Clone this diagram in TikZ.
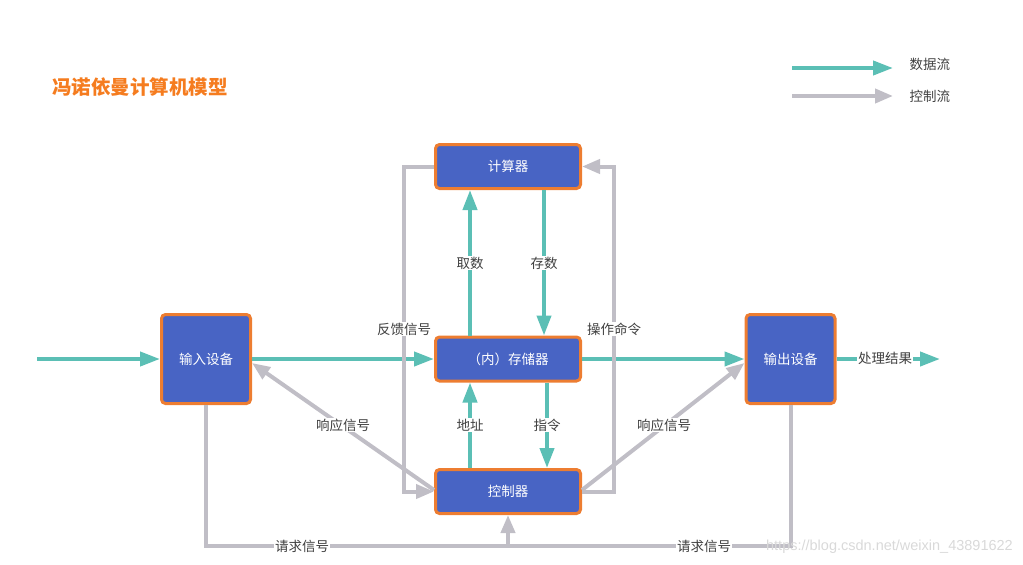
\documentclass[tikz,border=0pt]{standalone}
\usepackage{fontspec}
\setmainfont{Noto Sans CJK SC}
\newfontfamily\wmfont{Liberation Sans}
\usetikzlibrary{arrows.meta,calc}
\definecolor{teal1}{HTML}{5BBFB5}
\definecolor{gray1}{HTML}{C0BEC6}
\definecolor{boxfill}{HTML}{4864C4}
\definecolor{boxedge}{HTML}{ED7D31}
\definecolor{titleor}{HTML}{F57C1F}
\definecolor{txt}{HTML}{404040}
\tikzset{
  unitbox/.style={draw=boxedge, line width=3pt, fill=boxfill, rounded corners=4pt,
    text=white, font=\fontsize{13.5}{16}\selectfont, inner sep=0pt},
  wide/.style={unitbox, minimum width=145pt, minimum height=44pt},
  sq/.style={unitbox, minimum width=89pt, minimum height=89pt},
  dflow/.style={draw=teal1, line width=4pt, -{Triangle[length=20pt,width=14pt]}},
  dline/.style={draw=teal1, line width=4pt},
  cflow/.style={draw=gray1, line width=4pt, -{Triangle[length=18pt,width=14pt]}},
  cline/.style={draw=gray1, line width=4pt},
  lbl/.style={fill=white, text=txt, inner sep=1pt, font=\fontsize{13.5}{16}\selectfont},
}
\begin{document}
\begin{tikzpicture}[x=1pt,y=-1pt]
\useasboundingbox (0,0) rectangle (1023,565);
% title
\node[text=titleor, font=\fontsize{19.5}{22}\bfseries\selectfont, anchor=west, inner sep=0pt] (title) at (52,87) {冯诺依曼计算机模型};
% legend
\coordinate (lda) at (792,68);
\coordinate (ldb) at (893,68);
\coordinate (lca) at (792,96);
\coordinate (lcb) at (893,96);
\draw[dflow] (lda) -- (ldb);
\draw[cflow] (lca) -- (lcb);
\node[text=txt, anchor=west, font=\fontsize{13.5}{16}\selectfont] (ldl) at (906,64) {数据流};
\node[text=txt, anchor=west, font=\fontsize{13.5}{16}\selectfont] (lcl) at (906,96) {控制流};
% boxes
\node[wide] (calc) at (508,166.5) {计算器};
\node[wide] (mem) at (508,359) {（内）存储器};
\node[wide] (ctrl) at (508,491.5) {控制器};
\node[sq] (in) at (206,359) {输入设备};
\node[sq] (out) at (790.5,359) {输出设备};
% data flows
\coordinate (src) at (37,359);
\coordinate (dst) at (940,359);
\draw[dflow] (src) -- (in.west);
\draw[dflow] (in.east) -- (mem.west);
\draw[dflow] (mem.east) -- (out.west);
\draw[dflow] (out.east) -- (dst);
\draw[dflow] ([xshift=-38pt]mem.north) -- ([xshift=-38pt]calc.south);
\draw[dflow] ([xshift=36pt]calc.south) -- ([xshift=36pt]mem.north);
\draw[dflow] ([xshift=-38pt]ctrl.north) -- ([xshift=-38pt]mem.south);
\draw[dflow] ([xshift=39pt]mem.south) -- ([xshift=39pt]ctrl.north);
% control flows
\draw[cflow] (calc.west) -- (404,166.5) |- (ctrl.west);
\draw[cflow] (ctrl.east) -- (614,491.5) |- (calc.east);
\draw[cflow] ([yshift=1.5pt]ctrl.west) -- ([yshift=-4pt]in.east);
\draw[cflow] ([yshift=1.5pt]ctrl.east) -- ([yshift=-4pt]out.west);
\coordinate (j) at (508,546);
\draw[cline] (in.south) |- (j);
\draw[cline] (out.south) |- (j);
\draw[cflow] (j) -- (ctrl.south);
% labels
\node[lbl] (l1) at (470,263) {取数};
\node[lbl] (l2) at (544,263) {存数};
\node[lbl] (l3) at (470,425) {地址};
\node[lbl] (l4) at (547,425) {指令};
\node[lbl] (l5) at (404,329) {反馈信号};
\node[lbl] (l6) at (614,329) {操作命令};
\node[lbl] (l7) at (343,425) {响应信号};
\node[lbl] (l8) at (664,425) {响应信号};
\node[lbl] (l9) at (302,546) {请求信号};
\node[lbl] (l10) at (704,546) {请求信号};
\node[lbl] (l11) at (885,358) {处理结果};
% watermark
\node[text=black!15, anchor=east, font=\wmfont\fontsize{14.5}{16}\selectfont, inner sep=0pt] (wm) at (1013,547) {https://blog.csdn.net/weixin\_43891622};
\end{tikzpicture}
\end{document}
